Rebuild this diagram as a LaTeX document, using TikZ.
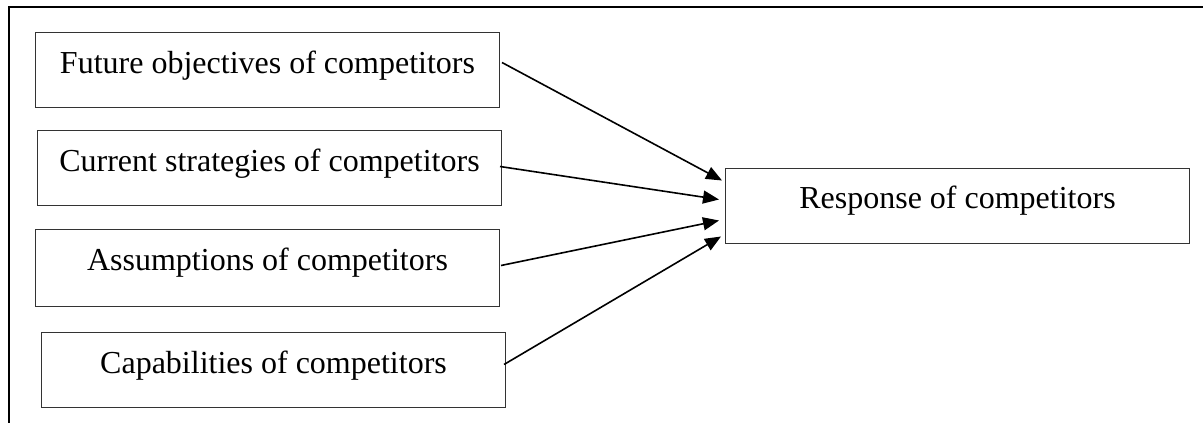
\documentclass[tikz,border=0pt]{standalone}
\usepackage{fontspec}
\setmainfont{Liberation Serif}
\usetikzlibrary{arrows.meta,calc}
\begin{document}
\begin{tikzpicture}[x=1pt,y=-1pt,
  factor/.style={draw=black!80,line width=1pt,minimum width=464pt,
    inner xsep=0pt,inner ysep=0pt,text height=41pt,text depth=34pt,
    font=\fontsize{32}{38}\selectfont,anchor=north west},
  link/.style={line width=1.6pt,-{Triangle[length=16pt,width=13pt]}},
  frame/.style={line width=2.2pt}]
\useasboundingbox (0,0) rectangle (1203,423);
% outer frame (top and left edges)
\draw[frame] (9,423) -- (9,7) -- (1203,7);
% the four factors
\node[factor] (fut) at (35,32)  {Future objectives of competitors};
\node[factor] (cur) at (37,130) {Current strategies of competitors};
\node[factor,text depth=36pt] (ass) at (35,229) {Assumptions of competitors};
\node[factor] (cap) at (41,332) {Capabilities of competitors};
% the outcome
\node[factor,text height=40pt,text depth=35pt] (res) at (725,168) {Response of competitors};
% arrows from each factor to the outcome
\draw[link] ($(fut.east)+(2,-7.5)$) -- ($(res.west)+(-3,-25.5)$);
\draw[link] ($(cur.east)+(-2,-1.5)$) -- ($(res.west)+(-6,-6.5)$);
\draw[link] ($(ass.east)+(1,-2.5)$) -- ($(res.west)+(-6,14.5)$);
\draw[link] ($(cap.east)+(-2,-5.5)$) -- ($(res.west)+(-4,30.5)$);
\end{tikzpicture}
\end{document}
